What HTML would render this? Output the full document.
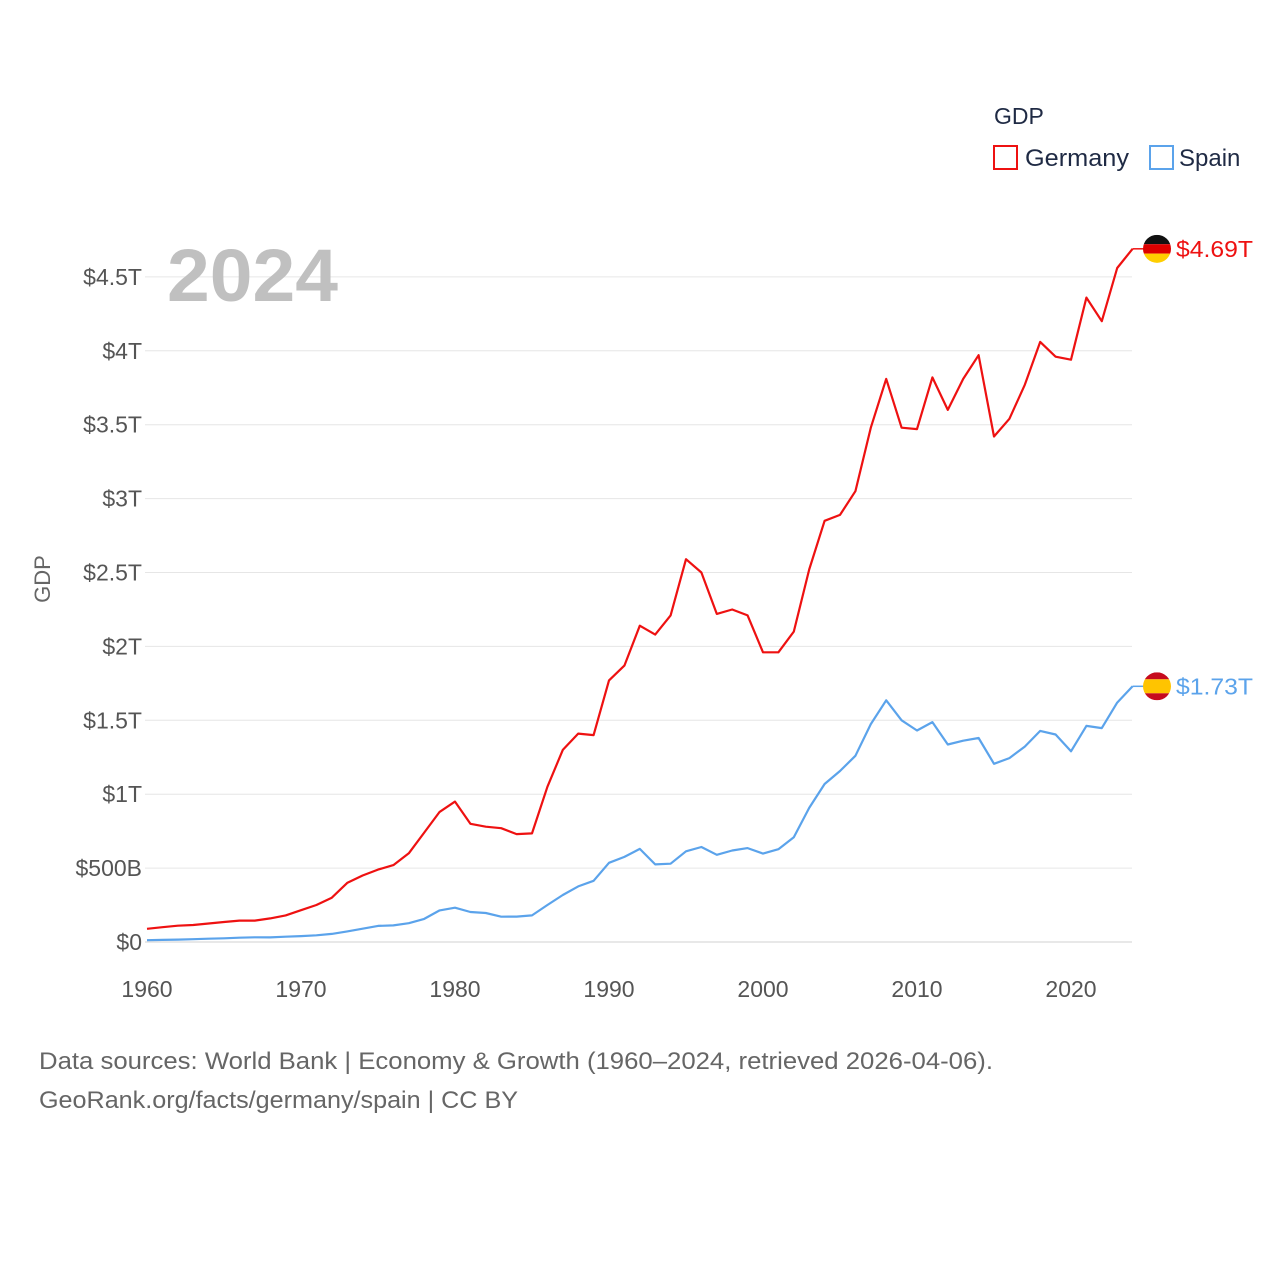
<!DOCTYPE html>
<html><head><meta charset="utf-8">
<style>
html,body{margin:0;padding:0;background:#fff;}
body{width:1280px;height:1280px;overflow:hidden;font-family:"Liberation Sans",sans-serif;}
</style></head>
<body>
<svg id="chart" width="1280" height="1280" viewBox="0 0 1280 1280" xmlns="http://www.w3.org/2000/svg" font-family="Liberation Sans, sans-serif">
  <g id="grid"></g>
  <g id="yticks"></g>
  <g id="xticks"></g>
  <text x="167" y="301" font-size="74" font-weight="bold" fill="#c0c0c0" textLength="171" lengthAdjust="spacingAndGlyphs">2024</text>
  <text transform="translate(50,579) rotate(-90)" text-anchor="middle" font-size="22" fill="#666">GDP</text>
  <g id="series"></g>
  <g>
    <text x="994" y="124" font-size="23" fill="#1f2a44">GDP</text>
    <g>
      <rect x="994" y="146" width="23" height="23" fill="none" stroke="#ee1111" stroke-width="2"/>
      <text x="1025" y="166" font-size="24" fill="#1f2a44" textLength="104" lengthAdjust="spacingAndGlyphs">Germany</text>
    </g>
    <g>
      <rect x="1150" y="146" width="23" height="23" fill="none" stroke="#5ba3eb" stroke-width="2"/>
      <text x="1179" y="166" font-size="24" fill="#1f2a44">Spain</text>
    </g>
  </g>
  <text x="39" y="1069" font-size="24" fill="#666" textLength="954" lengthAdjust="spacingAndGlyphs">Data sources: World Bank | Economy &amp; Growth (1960–2024, retrieved 2026-04-06).</text>
  <text x="39" y="1108" font-size="24" fill="#666" textLength="479" lengthAdjust="spacingAndGlyphs">GeoRank.org/facts/germany/spain | CC BY</text>
</svg>
<script>
const years = [];
for (let y = 1960; y <= 2024; y++) years.push(y);
const germanyGDP = [0.089,0.10,0.11,0.115,0.125,0.135,0.145,0.145,0.16,0.18,0.215,0.25,0.30,0.40,0.45,0.49,0.52,0.60,0.74,0.88,0.95,0.80,0.78,0.77,0.73,0.735,1.05,1.30,1.41,1.40,1.77,1.87,2.14,2.08,2.21,2.59,2.50,2.22,2.25,2.21,1.96,1.96,2.10,2.52,2.85,2.89,3.05,3.48,3.81,3.48,3.47,3.82,3.60,3.81,3.97,3.42,3.54,3.77,4.06,3.96,3.94,4.36,4.20,4.56,4.69];
const spainGDP = [0.012,0.014,0.016,0.019,0.022,0.025,0.029,0.032,0.031,0.036,0.040,0.045,0.055,0.072,0.090,0.109,0.112,0.127,0.156,0.214,0.232,0.203,0.196,0.171,0.172,0.180,0.250,0.318,0.376,0.414,0.536,0.576,0.630,0.525,0.530,0.614,0.643,0.590,0.619,0.635,0.598,0.628,0.709,0.907,1.069,1.157,1.260,1.474,1.635,1.500,1.431,1.488,1.336,1.362,1.380,1.206,1.244,1.322,1.428,1.404,1.290,1.462,1.447,1.620,1.73];
const yTickValues = [0,0.5,1,1.5,2,2.5,3,3.5,4,4.5];
const yTickLabels = ["$0","$500B","$1T","$1.5T","$2T","$2.5T","$3T","$3.5T","$4T","$4.5T"];
const xTickValues = [1960,1970,1980,1990,2000,2010,2020];
const endLabels = ["$4.69T","$1.73T"];

const NS = "http://www.w3.org/2000/svg";
const X0 = 147, PXY = 15.4, Y0 = 942, PXT = 147.8;
const xs = v => X0 + (v - 1960) * PXY;
const ys = v => Y0 - v * PXT;
function mk(tag, attrs, parent) {
  const e = document.createElementNS(NS, tag);
  for (const k in attrs) e.setAttribute(k, attrs[k]);
  parent.appendChild(e);
  return e;
}
const grid = document.getElementById('grid');
const yt = document.getElementById('yticks');
yTickValues.forEach((v, i) => {
  const l = mk('line', {x1: 145, x2: 1132, y1: ys(v), y2: ys(v), stroke: i === 0 ? '#d0d0d0' : '#e6e6e6', 'stroke-width': 1}, grid);
  
  
  const t = mk('text', {x: 142, y: ys(v) + 8, 'text-anchor': 'end', 'font-size': 23, fill: '#555'}, yt);
  t.textContent = yTickLabels[i];
  
  
});
const xt = document.getElementById('xticks');
xTickValues.forEach(v => {
  const t = mk('text', {x: xs(v), y: 997, 'text-anchor': 'middle', 'font-size': 23, fill: '#555'}, xt);
  t.textContent = v;
  
  
});
const series = document.getElementById('series');
function drawSeries(vals, color, name, label, flag) {
  const d = vals.map((v, i) => (i ? 'L' : 'M') + xs(years[i]).toFixed(1) + ',' + ys(v).toFixed(1)).join(' ');
  const p = mk('path', {d: d, fill: 'none', stroke: color, 'stroke-width': 2.2, 'stroke-linejoin': 'round'}, series);
  
  
  const last = vals[vals.length - 1];
  const lx = xs(years[years.length - 1]), ly = ys(last);
  mk('line', {x1: lx, x2: 1145, y1: ly, y2: ly, stroke: color, 'stroke-width': 1.5}, series);
  const g = mk('g', {}, series);
  
  
  const cid = 'clip-' + name;
  const cp = mk('clipPath', {id: cid}, g);
  mk('circle', {cx: 1157, cy: ly, r: 14}, cp);
  const fg = mk('g', {'clip-path': 'url(#' + cid + ')'}, g);
  flag.forEach(([c, y0, h]) => mk('rect', {x: 1143, y: ly - 14 + y0, width: 28, height: h, fill: c}, fg));
  const t = mk('text', {x: 1176, y: ly + 8, 'font-size': 23, fill: color, textLength: 77, lengthAdjust: 'spacingAndGlyphs'}, series);
  t.textContent = label;
  
  
}
drawSeries(germanyGDP, '#ee1111', 'germany', endLabels[0], [['#111', 0, 9.4], ['#dd0000', 9.4, 9.4], ['#ffce00', 18.8, 9.4]]);
drawSeries(spainGDP, '#5ba3eb', 'spain', endLabels[1], [['#c60b1e', 0, 7], ['#ffc400', 7, 14], ['#c60b1e', 21, 7]]);
</script>
</body></html>
